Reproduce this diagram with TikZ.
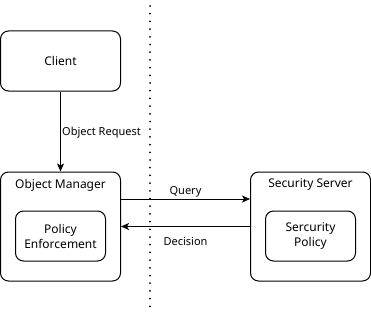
\documentclass[tikz,border=0pt]{standalone}
\usepackage{fontspec}
\setmainfont{Noto Sans}
\usetikzlibrary{arrows.meta}
\begin{document}
\begin{tikzpicture}[x=1pt,y=-1pt,
  box/.style={draw,line width=1pt,rounded corners=8pt,inner sep=0pt},
  lbl/.style={font=\fontsize{11}{13}\selectfont,inner sep=0pt},
  btxt/.style={font=\fontsize{12}{15}\selectfont,inner sep=0pt,align=center},
  arr/.style={line width=1pt,-{Stealth[length=8pt,width=7pt,inset=2pt]}}]
\useasboundingbox (0,0) rectangle (371,313);
\draw[line width=2pt,line cap=round,dash pattern=on 0pt off 7.7pt] (150,6) -- (150,312);
\node[box,minimum width=120pt,minimum height=60pt] (client) at (60.5,61) {};
\node[btxt] at (client.center) {Client};
\node[box,minimum width=120pt,minimum height=109pt] (om) at (60.5,226.5) {};
\node[btxt] at (60.5,185) {Object Manager};
\node[box,minimum width=90pt,minimum height=50pt] (pe) at (60.5,236) {};
\node[btxt] at (pe.center) {Policy\\Enforcement};
\node[box,minimum width=120pt,minimum height=109pt] (ss) at (310.5,226.5) {};
\node[btxt] at (310.5,185) {Security Server};
\node[box,minimum width=90pt,minimum height=50pt] (sp) at (310.5,236) {};
\node[btxt] at (sp.center) {Sercurity\\Policy};
\draw[arr] (client.south) -- (om.north);
\node[lbl,anchor=west] at (62,132.5) {Object Request};
\coordinate (q1) at (om.east |- 0,199);
\coordinate (q2) at (ss.west |- 0,199);
\draw[arr] (q1) -- (q2);
\coordinate (d1) at (ss.west |- 0,226.5);
\coordinate (d2) at (om.east |- 0,226.5);
\draw[arr] (d1) -- (d2);
\node[lbl] at (185.5,191.5) {Query};
\node[lbl] at (185.5,241) {Decision};
\end{tikzpicture}
\end{document}
